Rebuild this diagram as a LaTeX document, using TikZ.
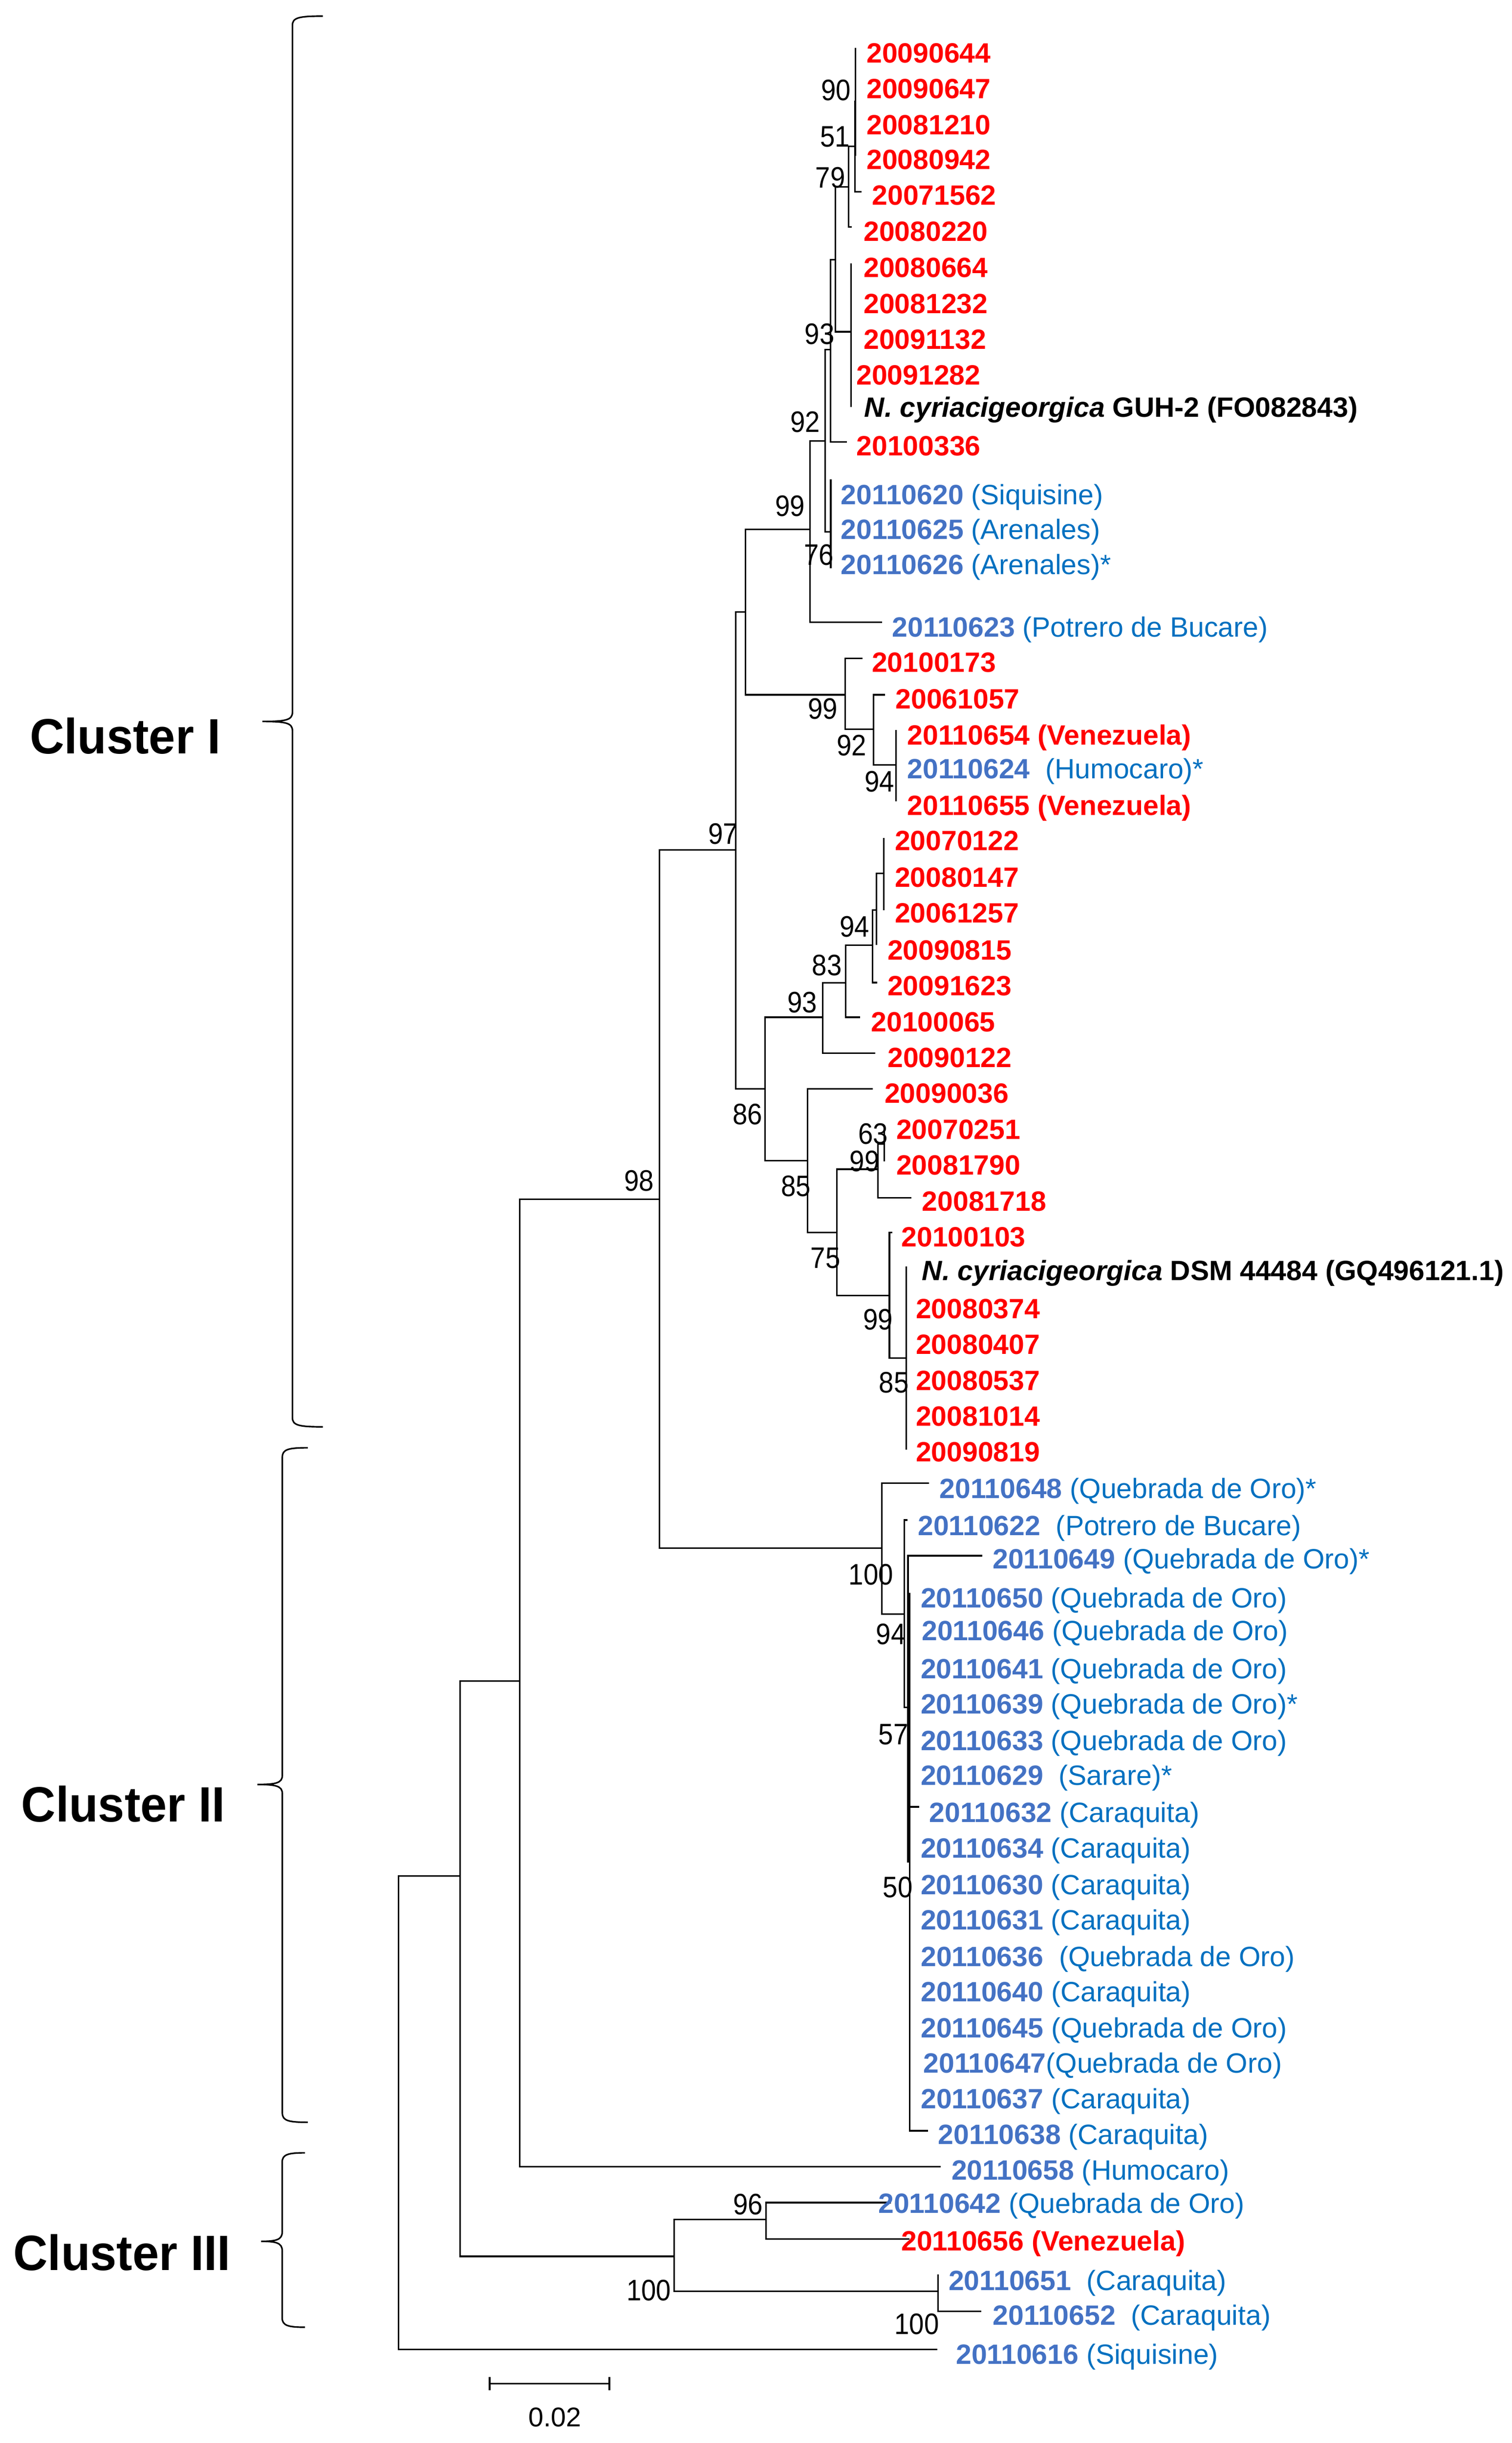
\documentclass[tikz,border=0pt]{standalone}
\usepackage{fontspec}
\setmainfont{Liberation Sans}
\newfontfamily\labfont{Liberation Sans}
\newfontfamily\bsfont[FakeStretch=0.9]{Liberation Sans}
\newfontfamily\clfont[FakeStretch=0.96]{Liberation Sans}
\definecolor{redc}{HTML}{FF0000}
\definecolor{bnum}{HTML}{4472C4}
\definecolor{bloc}{HTML}{0070C0}
\newcommand\redlab[1]{\textcolor{redc}{\bfseries #1}}
\newcommand\bluenum[1]{\textcolor{bnum}{\bfseries #1}}
\newcommand\blueloc[1]{\textcolor{bloc}{#1}}
\newcommand\ncyr{{\bfseries\itshape N. cyriacigeorgica}}
\newcommand\clbrace[6]{%
  \draw[br] (#2,#4) .. controls (#1+4,#4) and (#1,#4+1) .. (#1,#4+6)
    -- (#1,#5-6) .. controls (#1,#5-1) and (#1-4,#5) .. (#3,#5)
    .. controls (#1-4,#5) and (#1,#5+1) .. (#1,#5+6)
    -- (#1,#6-6) .. controls (#1,#6-1) and (#1+4,#6) .. (#2,#6);}
\begin{document}
\begin{tikzpicture}[x=1pt,y=-1pt,
  br/.style={line width=1pt,black},
  lab/.style={inner sep=0pt,anchor=base west,font=\labfont\fontsize{18}{20}\selectfont},
  bs/.style={inner sep=0pt,anchor=base,font=\bsfont\fontsize{19.1}{21}\selectfont},
  cl/.style={inner sep=0pt,anchor=base west,font=\clfont\bfseries\fontsize{32}{36}\selectfont},
  sbl/.style={inner sep=0pt,anchor=base,font=\labfont\fontsize{17.5}{19}\selectfont}]
\useasboundingbox (0,0) rectangle (974.9,1575.9);

% ---------- internal nodes (x, y of parent connection) ----------
\coordinate (R) at (256.9,1362.8);
\coordinate (nC) at (296.7,1210.1);
\coordinate (nB) at (335.1,1084.3);
\coordinate (n98) at (425.4,773.6);
\coordinate (n97) at (474.4,548.3);
\coordinate (n99b) at (480.9,394.8);
\coordinate (n99a) at (522.5,341.5);
\coordinate (n92) at (532.1,284.5);
\coordinate (nQ) at (535.7,225.6);
\coordinate (nP) at (538.8,167.5);
\coordinate (n79) at (547.3,120.5);
\coordinate (nX) at (551.3,94.3);
\coordinate (n51) at (551.7,65.3);
\coordinate (n90t) at (551.7,30.9);
\coordinate (n51b) at (551.7,100.4);
\coordinate (n93) at (549.0,214.0);
\coordinate (n93t) at (549.0,169.9);
\coordinate (n93b2) at (549.0,262.7);
\coordinate (nSiq) at (535.8,343.1);
\coordinate (nSiqt) at (535.8,309.2);
\coordinate (nSiqb) at (535.8,366.6);
\coordinate (n99c) at (545.2,448.2);
\coordinate (n92c) at (563.3,470.5);
\coordinate (n94a) at (577.9,493.4);
\coordinate (n94at) at (577.9,470.8);
\coordinate (n94ab) at (577.9,516.9);
\coordinate (n86) at (493.3,702.5);
\coordinate (n93b) at (530.5,656.2);
\coordinate (n83) at (545.4,633.9);
\coordinate (n94b) at (562.7,609.7);
\coordinate (nY) at (565.3,587.1);
\coordinate (nZ) at (569.9,563.5);
\coordinate (nZt) at (569.9,540.4);
\coordinate (nZb) at (569.9,587.1);
\coordinate (n85) at (520.8,748.7);
\coordinate (n75) at (539.7,795.0);
\coordinate (n99d) at (566.3,754.2);
\coordinate (n63) at (570.3,737.9);
\coordinate (n63t) at (570.3,727.0);
\coordinate (n63b) at (570.3,749.2);
\coordinate (n99e) at (573.6,835.8);
\coordinate (n85b) at (584.5,876.1);
\coordinate (n85bt) at (584.5,816.8);
\coordinate (n85bb) at (584.5,935.2);
\coordinate (n100) at (568.8,998.6);
\coordinate (n94c) at (583.3,1041.3);
\coordinate (n57) at (585.6,1101.5);
\coordinate (n50) at (586.6,1201.0);
\coordinate (n50t) at (586.6,1027.6);
\coordinate (n50b) at (586.6,1374.5);
\coordinate (n100c) at (434.8,1455.5);
\coordinate (n96) at (494.0,1431.6);
\coordinate (n100b) at (604.9,1478.1);

% ---------- tip ends ----------
\coordinate (e05) at (555.6,123.6);
\coordinate (e06) at (549.5,146.5);
\coordinate (e12) at (546.3,285.2);
\coordinate (e16) at (568.9,401.3);
\coordinate (e17) at (556.2,424.7);
\coordinate (e18) at (570.7,448.2);
\coordinate (e25) at (565.3,609.7);
\coordinate (e26) at (565.7,633.8);
\coordinate (e27) at (554.8,656.2);
\coordinate (e28) at (564.6,679.3);
\coordinate (e29) at (563.0,702.5);
\coordinate (e32) at (587.8,772.7);
\coordinate (e33) at (575.5,795.0);
\coordinate (e40) at (599.2,956.8);
\coordinate (e41) at (585.4,980.5);
\coordinate (e42) at (633.6,1003.5);
\coordinate (e49) at (592.7,1165.5);
\coordinate (e58) at (598.5,1374.5);
\coordinate (e59) at (606.8,1397.7);
\coordinate (e60) at (574.7,1420.8);
\coordinate (e61) at (586.6,1444.4);
\coordinate (e62) at (604.9,1467.0);
\coordinate (e63) at (633.0,1491.0);
\coordinate (e64) at (604.4,1515.4);

% ---------- branches ----------
\draw[br] (nC) -| (R) |- (e64);
\draw[br] (nB) -| (nC) |- (n100c);
\draw[br] (n98) -| (nB) |- (e59);
\draw[br] (n97) -| (n98) |- (n100);
\draw[br] (n99b) -| (n97) |- (n86);
\draw[br] (n99a) -| (n99b) |- (n99c);
\draw[br] (n92) -| (n99a) |- (e16);
\draw[br] (nQ) -| (n92) |- (nSiq);
\draw[br] (nP) -| (nQ) |- (e12);
\draw[br] (n79) -| (nP) |- (n93);
\draw[br] (nX) -| (n79) |- (e06);
\draw[br] (n51) -| (nX) |- (e05);
\draw[br] (n90t) -- (n51b);
\draw[br] (n93t) -- (n93b2);
\draw[br] (nSiqt) -- (nSiqb);
\draw[br] (e17) -| (n99c) |- (n92c);
\draw[br] (e18) -| (n92c) |- (n94a);
\draw[br] (n94at) -- (n94ab);
\draw[br] (n93b) -| (n86) |- (n85);
\draw[br] (n83) -| (n93b) |- (e28);
\draw[br] (n94b) -| (n83) |- (e27);
\draw[br] (nY) -| (n94b) |- (e26);
\draw[br] (nZ) -| (nY) |- (e25);
\draw[br] (nZt) -- (nZb);
\draw[br] (e29) -| (n85) |- (n75);
\draw[br] (n99d) -| (n75) |- (n99e);
\draw[br] (n63) -| (n99d) |- (e32);
\draw[br] (n63t) -- (n63b);
\draw[br] (e33) -| (n99e) |- (n85b);
\draw[br] (n85bt) -- (n85bb);
\draw[br] (e40) -| (n100) |- (n94c);
\draw[br] (e41) -| (n94c) |- (n57);
\draw[br] (e42) -| (n57) |- (n50);
\draw[br] (n50t) -- (n50b) -- (e58);
\draw[br] (n50 |- e49) -- (e49);
\draw[br] (n96) -| (n100c) |- (n100b);
\draw[br] (e60) -| (n96) |- (e61);
\draw[br] (e62) -| (n100b) |- (e63);

% ---------- tip labels ----------
\node[lab] (t01) at (558.7,40.35) {\redlab{20090644}};
\node[lab] (t02) at (558.7,63.55) {\redlab{20090647}};
\node[lab] (t03) at (558.7,86.75) {\redlab{20081210}};
\node[lab] (t04) at (558.7,109.15) {\redlab{20080942}};
\node[lab] (t05) at (562.3,132.35) {\redlab{20071562}};
\node[lab] (t06) at (556.8,155.55) {\redlab{20080220}};
\node[lab] (t07) at (556.8,178.75) {\redlab{20080664}};
\node[lab] (t08) at (556.8,202.05) {\redlab{20081232}};
\node[lab] (t09) at (556.8,225.25) {\redlab{20091132}};
\node[lab] (t10) at (552.1,248.05) {\redlab{20091282}};
\node[lab] (t11) at (557.3,268.95) {\ncyr{} \textbf{GUH-2 (FO082843)}};
\node[lab] (t12) at (552.2,293.95) {\redlab{20100336}};
\node[lab] (t13) at (542.2,325.35) {\bluenum{20110620} \blueloc{(Siquisine)}};
\node[lab] (t14) at (542.2,347.95) {\bluenum{20110625} \blueloc{(Arenales)}};
\node[lab] (t15) at (542.2,370.55) {\bluenum{20110626} \blueloc{(Arenales)*}};
\node[lab] (t16) at (575.3,410.95) {\bluenum{20110623} \blueloc{(Potrero de Bucare)}};
\node[lab] (t17) at (562.1,433.65) {\redlab{20100173}};
\node[lab] (t18) at (577.4,457.05) {\redlab{20061057}};
\node[lab] (t19) at (585.0,480.45) {\redlab{20110654 (Venezuela)}};
\node[lab] (t20) at (585.0,502.25) {\bluenum{20110624}~~\blueloc{(Humocaro)*}};
\node[lab] (t21) at (585.0,525.75) {\redlab{20110655 (Venezuela)}};
\node[lab] (t22) at (576.9,548.45) {\redlab{20070122}};
\node[lab] (t23) at (576.9,572.25) {\redlab{20080147}};
\node[lab] (t24) at (576.9,595.15) {\redlab{20061257}};
\node[lab] (t25) at (572.2,619.05) {\redlab{20090815}};
\node[lab] (t26) at (572.2,642.25) {\redlab{20091623}};
\node[lab] (t27) at (561.6,665.35) {\redlab{20100065}};
\node[lab] (t28) at (572.3,688.45) {\redlab{20090122}};
\node[lab] (t29) at (570.3,711.65) {\redlab{20090036}};
\node[lab] (t30) at (577.9,734.75) {\redlab{20070251}};
\node[lab] (t31) at (577.9,757.95) {\redlab{20081790}};
\node[lab] (t32) at (594.5,781.05) {\redlab{20081718}};
\node[lab] (t33) at (581.2,804.15) {\redlab{20100103}};
\node[lab] (t34) at (594.5,825.95) {\ncyr{} \textbf{DSM 44484 (GQ496121.1)}};
\node[lab] (t35) at (590.5,850.45) {\redlab{20080374}};
\node[lab] (t36) at (590.5,873.55) {\redlab{20080407}};
\node[lab] (t37) at (590.5,896.75) {\redlab{20080537}};
\node[lab] (t38) at (590.5,919.85) {\redlab{20081014}};
\node[lab] (t39) at (590.5,942.95) {\redlab{20090819}};
\node[lab] (t40) at (605.8,966.55) {\bluenum{20110648} \blueloc{(Quebrada de Oro)*}};
\node[lab] (t41) at (591.8,990.45) {\bluenum{20110622}~~\blueloc{(Potrero de Bucare)}};
\node[lab] (t42) at (640.0,1011.95) {\bluenum{20110649} \blueloc{(Quebrada de Oro)*}};
\node[lab] (t43) at (593.6,1036.95) {\bluenum{20110650} \blueloc{(Quebrada de Oro)}};
\node[lab] (t44) at (594.3,1058.35) {\bluenum{20110646} \blueloc{(Quebrada de Oro)}};
\node[lab] (t45) at (593.6,1082.65) {\bluenum{20110641} \blueloc{(Quebrada de Oro)}};
\node[lab] (t46) at (593.6,1105.45) {\bluenum{20110639} \blueloc{(Quebrada de Oro)*}};
\node[lab] (t47) at (593.6,1129.15) {\bluenum{20110633} \blueloc{(Quebrada de Oro)}};
\node[lab] (t48) at (593.6,1151.65) {\bluenum{20110629}~~\blueloc{(Sarare)*}};
\node[lab] (t49) at (599.2,1175.55) {\bluenum{20110632} \blueloc{(Caraquita)}};
\node[lab] (t50) at (593.6,1198.35) {\bluenum{20110634} \blueloc{(Caraquita)}};
\node[lab] (t51) at (593.6,1221.95) {\bluenum{20110630} \blueloc{(Caraquita)}};
\node[lab] (t52) at (593.6,1244.75) {\bluenum{20110631} \blueloc{(Caraquita)}};
\node[lab] (t53) at (593.7,1268.45) {\bluenum{20110636}~~\blueloc{(Quebrada de Oro)}};
\node[lab] (t54) at (593.7,1291.05) {\bluenum{20110640} \blueloc{(Caraquita)}};
\node[lab] (t55) at (593.7,1314.45) {\bluenum{20110645} \blueloc{(Quebrada de Oro)}};
\node[lab] (t56) at (595.4,1337.25) {\bluenum{20110647}\blueloc{(Quebrada de Oro)}};
\node[lab] (t57) at (593.7,1360.25) {\bluenum{20110637} \blueloc{(Caraquita)}};
\node[lab] (t58) at (604.9,1383.25) {\bluenum{20110638} \blueloc{(Caraquita)}};
\node[lab] (t59) at (613.5,1406.15) {\bluenum{20110658} \blueloc{(Humocaro)}};
\node[lab] (t60) at (566.3,1427.65) {\bluenum{20110642} \blueloc{(Quebrada de Oro)}};
\node[lab] (t61) at (581.1,1451.95) {\redlab{20110656 (Venezuela)}};
\node[lab] (t62) at (611.6,1477.25) {\bluenum{20110651}~~\blueloc{(Caraquita)}};
\node[lab] (t63) at (640.2,1499.65) {\bluenum{20110652}~~\blueloc{(Caraquita)}};
\node[lab] (t64) at (616.4,1524.95) {\bluenum{20110616} \blueloc{(Siquisine)}};

% ---------- bootstrap values ----------
\node[bs] (b01) at (539.1,64.65) {90};
\node[bs] (b02) at (538.6,94.65) {51};
\node[bs] (b03) at (535.5,121.25) {79};
\node[bs] (b04) at (528.6,221.95) {93};
\node[bs] (b05) at (519.4,278.65) {92};
\node[bs] (b06) at (509.5,333.05) {99};
\node[bs] (b07) at (528.1,364.55) {76};
\node[bs] (b08) at (530.7,463.85) {99};
\node[bs] (b09) at (549.3,487.35) {92};
\node[bs] (b10) at (567.2,510.75) {94};
\node[bs] (b11) at (466.4,544.45) {97};
\node[bs] (b12) at (551.2,604.45) {94};
\node[bs] (b13) at (533.3,629.25) {83};
\node[bs] (b14) at (517.4,653.35) {93};
\node[bs] (b15) at (482.2,725.45) {86};
\node[bs] (b16) at (563.2,737.85) {63};
\node[bs] (b17) at (557.6,755.55) {99};
\node[bs] (b18) at (513.3,771.75) {85};
\node[bs] (b19) at (532.4,818.15) {75};
\node[bs] (b20) at (566.3,857.65) {99};
\node[bs] (b21) at (576.5,898.45) {85};
\node[bs] (b22) at (412.2,768.15) {98};
\node[bs] (b23) at (561.7,1022.25) {100};
\node[bs] (b24) at (574.6,1060.85) {94};
\node[bs] (b25) at (576.2,1125.35) {57};
\node[bs] (b26) at (579.0,1223.85) {50};
\node[bs] (b27) at (482.5,1428.45) {96};
\node[bs] (b28) at (418.5,1484.15) {100};
\node[bs] (b29) at (591.3,1505.65) {100};

% ---------- scale bar ----------
\coordinate (sb1) at (315.8,1537.6);
\coordinate (sb2) at (393.0,1537.6);
\draw[br] (sb1) -- (sb2);
\draw[br] ([yshift=4.2pt]sb1) -- ([yshift=-4.2pt]sb1);
\draw[br] ([yshift=4.2pt]sb2) -- ([yshift=-4.2pt]sb2);
\node[sbl] (sbt) at (357.9,1565.4) {0.02};

% ---------- cluster braces and labels ----------
\clbrace{188.6}{208.2}{169.2}{10.4}{465.4}{920.4}
\clbrace{182.1}{198.5}{166.0}{933.9}{1151.1}{1369.0}
\clbrace{182.0}{196.7}{168.4}{1388.7}{1445.8}{1501.2}
\node[cl] (cl1) at (19.1,486.1) {Cluster I};
\node[cl] (cl2) at (13.6,1175.1) {Cluster II};
\node[cl] (cl3) at (8.5,1464.5) {Cluster III};
\end{tikzpicture}
\end{document}
